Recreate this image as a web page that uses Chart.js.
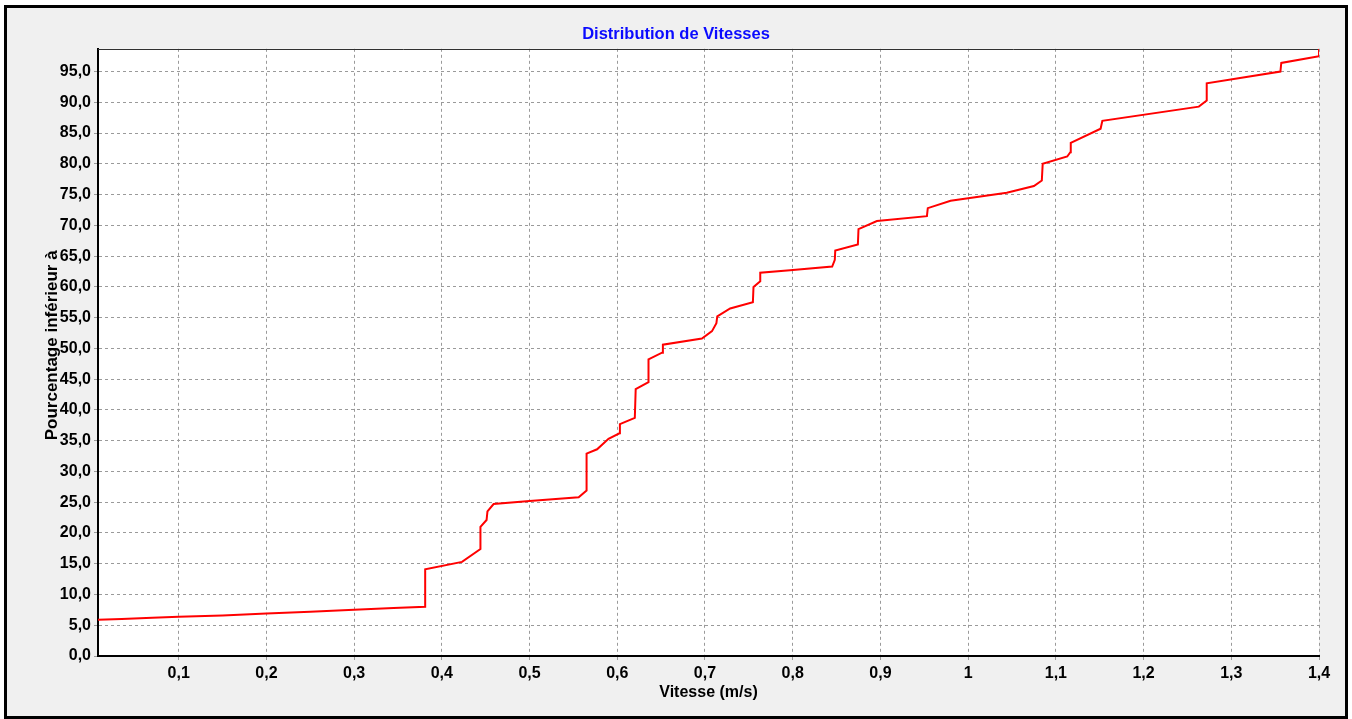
<!DOCTYPE html>
<html lang="fr">
<head>
<meta charset="utf-8">
<title>Distribution de Vitesses</title>
<script src="https://cdn.jsdelivr.net/npm/chart.js@4.4.1/dist/chart.umd.min.js"></script>
<style>
  html, body { margin: 0; padding: 0; background: #ffffff; }
  #wrap { width: 1352px; height: 719px; }
</style>
</head>
<body>
<div id="wrap"><canvas id="chart" width="1352" height="719"></canvas></div>
<script>
// Cumulative speed distribution: speed (m/s) vs. percentage of samples below it
const speeds = [
  0.008, 0.035, 0.07, 0.1, 0.15, 0.2, 0.25, 0.3, 0.345, 0.381,
  0.381, 0.423, 0.444, 0.444, 0.451, 0.452, 0.459, 0.5, 0.556, 0.565,
  0.565, 0.577, 0.59, 0.6025, 0.603, 0.62, 0.621, 0.6356, 0.6356, 0.651,
  0.652, 0.6965, 0.708, 0.713, 0.714, 0.7287, 0.7546, 0.7553, 0.763, 0.763,
  0.797, 0.845, 0.848, 0.8485, 0.8743, 0.875, 0.896, 0.953, 0.954, 0.98,
  1.044, 1.075, 1.084, 1.085, 1.113, 1.1165, 1.117, 1.151, 1.153, 1.263,
  1.272, 1.272, 1.356, 1.357, 1.4, 1.4
];
const percents = [
  5.9, 6.0, 6.2, 6.4, 6.6, 6.9, 7.2, 7.5, 7.8, 8.0,
  14.1, 15.3, 17.4, 21.0, 22.1, 23.5, 24.7, 25.2, 25.8, 26.9,
  32.9, 33.6, 35.3, 36.2, 37.7, 38.7, 43.4, 44.5, 48.2, 49.3,
  50.6, 51.6, 52.8, 54.1, 55.2, 56.5, 57.5, 60.0, 60.9, 62.3,
  62.7, 63.3, 64.4, 65.9, 66.9, 69.4, 70.7, 71.5, 72.8, 74.0,
  75.3, 76.4, 77.3, 80.0, 81.2, 81.9, 83.4, 85.7, 87.0, 89.3,
  90.3, 93.1, 95.0, 96.4, 97.5, 98.7
];

const xMin = 0.008, xMax = 1.4, xStep = 0.1;
const yMin = 0, yMax = 98.7, yStep = 5;

const points = speeds.map((s, i) => ({ x: s, y: percents[i] }));

const FONT = "'Liberation Sans', Arial, Helvetica, sans-serif";

// Grey window panel with black frame, white plot area, thin top edge line
const panel = {
  id: 'panel',
  afterLayout(chart) {
    // centre the chart title across the whole window
    if (chart.titleBlock) {
      chart.titleBlock.left = 0;
      chart.titleBlock.right = chart.width;
      chart.titleBlock.width = chart.width;
    }
  },
  beforeDraw(chart) {
    const { ctx, width, height, chartArea: a } = chart;
    ctx.save();
    ctx.fillStyle = '#ffffff';
    ctx.fillRect(0, 0, width, height);
    ctx.fillStyle = '#f0f0f0';
    ctx.fillRect(5.5, 6.5, 1341, 711);
    ctx.lineWidth = 3;
    ctx.strokeStyle = '#000000';
    ctx.strokeRect(5.5, 6.5, 1341, 711);
    ctx.fillStyle = '#ffffff';
    ctx.fillRect(a.left, a.top, a.right - a.left, a.bottom - a.top);
    ctx.restore();
  },
  beforeDatasetsDraw(chart) {
    const { ctx, chartArea: a } = chart;
    ctx.save();
    ctx.strokeStyle = '#303030';
    ctx.lineWidth = 1;
    ctx.beginPath();
    ctx.moveTo(a.left, Math.round(a.top) + 0.5);
    ctx.lineTo(a.right, Math.round(a.top) + 0.5);
    ctx.stroke();
    ctx.restore();
  }
};

const gridStyle = { color: '#9a9a9a', lineWidth: 1, tickLength: 4, tickColor: '#9a9a9a' };

new Chart(document.getElementById('chart'), {
  type: 'scatter',
  data: {
    datasets: [{
      label: 'Distribution',
      data: points,
      showLine: true,
      borderColor: '#ff0000',
      backgroundColor: '#ff0000',
      borderWidth: 2,
      pointRadius: 0,
      tension: 0
    }]
  },
  options: {
    responsive: false,
    animation: false,
    devicePixelRatio: 1,
    layout: { padding: { left: 0, right: 33, top: 0, bottom: 0 } },
    plugins: {
      legend: { display: false },
      tooltip: { enabled: false },
      title: {
        display: true,
        text: 'Distribution de Vitesses',
        color: '#0a0aff',
        font: { family: FONT, size: 16.5, weight: 'bold' },
        padding: { top: 25, bottom: 4 }
      }
    },
    scales: {
      x: {
        type: 'linear',
        min: xMin,
        max: xMax,
        grid: gridStyle,
        border: { display: true, color: '#000000', width: 2, dash: [3, 3] },
        ticks: {
          stepSize: xStep,
          includeBounds: false,
          autoSkip: false,
          maxRotation: 0,
          padding: 4,
          color: '#000000',
          font: { family: FONT, size: 16, weight: 'bold' },
          callback: v => String(Math.round(v * 10) / 10).replace('.', ',')
        },
        title: {
          display: true,
          text: 'Vitesse (m/s)',
          color: '#000000',
          font: { family: FONT, size: 16, weight: 'bold' },
          padding: { top: 0, bottom: 17 }
        },
        afterFit(scale) { scale.height = 63; }
      },
      y: {
        type: 'linear',
        min: yMin,
        max: yMax,
        grid: gridStyle,
        border: { display: true, color: '#000000', width: 2, dash: [3, 3] },
        ticks: {
          stepSize: yStep,
          includeBounds: false,
          padding: 3,
          color: '#000000',
          font: { family: FONT, size: 16, weight: 'bold' },
          callback: v => v.toFixed(1).replace('.', ',')
        },
        title: {
          display: true,
          text: '   Pourcentage inférieur à',
          color: '#000000',
          font: { family: FONT, size: 17, weight: 'bold' },
          padding: { top: 42, bottom: 0 }
        },
        afterFit(scale) { scale.width = 98; }
      }
    }
  },
  plugins: [panel]
});
</script>
</body>
</html>
